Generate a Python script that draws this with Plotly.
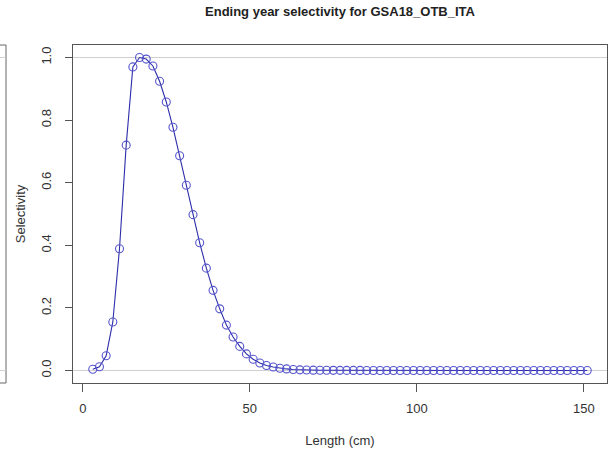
import plotly.graph_objects as go

# Length classes (cm) and ending-year selectivity at each class
length_cm = list(range(3, 152, 2))
selectivity = [
    0.004, 0.012, 0.047, 0.155, 0.389, 0.720, 0.970, 1.000, 0.995, 0.973,
    0.924, 0.858, 0.777, 0.686, 0.592, 0.498, 0.408, 0.327, 0.256, 0.197,
    0.145, 0.107, 0.077, 0.053, 0.036, 0.024, 0.016, 0.011, 0.007, 0.005,
    0.003, 0.002, 0.0015, 0.001, 0.0008, 0.0006, 0.0005, 0.0004, 0.0003, 0.0002,
    0.0002, 0.0001, 0.0001, 0.0001, 0.0, 0.0, 0.0, 0.0, 0.0, 0.0,
    0.0, 0.0, 0.0, 0.0, 0.0, 0.0, 0.0, 0.0, 0.0, 0.0,
    0.0, 0.0, 0.0, 0.0, 0.0, 0.0, 0.0, 0.0, 0.0, 0.0,
    0.0, 0.0, 0.0, 0.0, 0.0,
]

y_ticks = [0.0, 0.2, 0.4, 0.6, 0.8, 1.0]
y_tick_text = ["0.0", "0.2", "0.4", "0.6", "0.8", "1.0"]
x_ticks = [0, 50, 100, 150]

title_text = "Ending year selectivity for GSA18_OTB_ITA"
x_label = "Length (cm)"
y_label = "Selectivity"

FONT = "Liberation Sans, Arial, Helvetica, sans-serif"
AXIS_COL = "#555555"

# R-style 4% padding around the data range
x_pad = 0.04 * (max(length_cm) - min(length_cm))
y_pad = 0.04 * (max(selectivity) - min(selectivity))
x_range = [min(length_cm) - x_pad, max(length_cm) + x_pad]
y_range = [min(selectivity) - y_pad, max(selectivity) + y_pad]

fig = go.Figure()

# Reference lines at 0 and 1
for level in (0.0, 1.0):
    fig.add_shape(type="line", xref="paper", yref="y", x0=0, x1=1,
                  y0=level, y1=level,
                  line=dict(color="#cfcfcf", width=1), layer="below")

fig.add_trace(go.Scatter(
    x=length_cm, y=selectivity,
    mode="lines+markers",
    line=dict(color="rgb(45,45,170)", width=1.1),
    marker=dict(symbol="circle-open", size=8,
                color="rgb(85,85,205)", line=dict(width=1.1)),
    showlegend=False,
))

# Edge of the neighbouring panel on the left
left_panel = dict(color="#666666", width=1)
fig.add_shape(type="line", xref="paper", yref="paper",
              x0=-73/534, x1=-67/534, y0=1, y1=1, line=left_panel)
fig.add_shape(type="line", xref="paper", yref="paper",
              x0=-73/534, x1=-67/534, y0=0, y1=0, line=left_panel)
fig.add_shape(type="line", xref="paper", yref="paper",
              x0=-67/534, x1=-67/534, y0=0, y1=1, line=left_panel)
for level in (0.0, 1.0):
    fig.add_shape(type="line", xref="paper", yref="y",
                  x0=-73/534, x1=-67/534, y0=level, y1=level,
                  line=dict(color="#cfcfcf", width=1))

fig.update_layout(
    width=612, height=454,
    margin=dict(l=73, r=5, t=45, b=71),
    paper_bgcolor="white", plot_bgcolor="white",
    font=dict(family=FONT, size=13, color="#333333"),
    title=dict(text="<b>" + title_text + "</b>", xref="paper", x=0.5,
               xanchor="center", yref="container", y=0.985, yanchor="top",
               font=dict(family=FONT, size=13, color="#222222")),
    xaxis=dict(range=x_range, tickvals=x_ticks, ticks="outside", ticklen=8,
               tickcolor=AXIS_COL, showline=True, linecolor=AXIS_COL,
               mirror=True, showgrid=False, zeroline=False,
               ticklabelstandoff=5,
               title=dict(text=x_label, standoff=21,
                          font=dict(family=FONT, size=13)),
               tickfont=dict(size=13)),
    yaxis=dict(range=y_range, tickvals=y_ticks, ticktext=y_tick_text,
               ticks="outside", ticklen=7, tickcolor=AXIS_COL,
               tickangle=-90, showline=True, linecolor=AXIS_COL, mirror=True,
               showgrid=False, zeroline=False,
               ticklabelstandoff=9,
               title=dict(text=y_label, standoff=10,
                          font=dict(family=FONT, size=13)),
               tickfont=dict(size=13)),
)

fig.write_html("out.html")
